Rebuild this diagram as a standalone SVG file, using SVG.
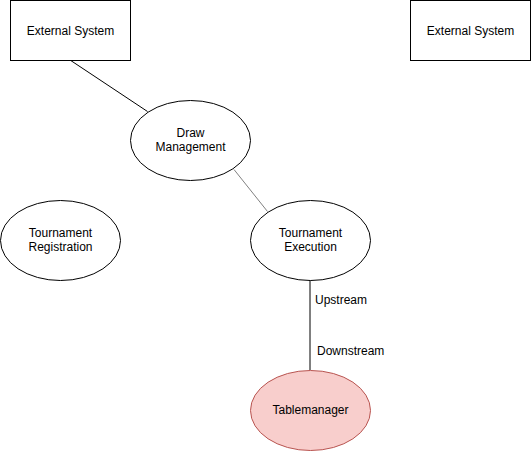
<svg xmlns="http://www.w3.org/2000/svg" width="531" height="451" viewBox="0 0 531 451">
<style>
.n{fill:#ffffff;stroke:#000000;stroke-width:1}
.r{fill:#f8cecc;stroke:#b85450;stroke-width:1}
text{font-family:"Liberation Sans",Arial,sans-serif;font-size:12px;fill:#000000}
.c{text-anchor:middle}
.e{fill:none;stroke:#000000;stroke-width:1}
</style>
<rect width="531" height="451" fill="#ffffff"/>
<g id="connectors">
<line class="e" x1="70" y1="60" x2="147.5" y2="111.5"/>
<line class="e" x1="234" y1="169.5" x2="267.5" y2="211.5" style="stroke:#808080"/>
<line class="e" x1="310" y1="280" x2="310" y2="370"/>
<text x="315" y="304">Upstream</text>
<text x="317" y="355">Downstream</text>
</g>
<g id="ext1">
<rect class="n" x="10.5" y="0.5" width="120" height="60"/>
<text class="c" x="70.5" y="35">External System</text>
</g>
<g id="ext2">
<rect class="n" x="410.5" y="0.5" width="120" height="60"/>
<text class="c" x="470.5" y="35">External System</text>
</g>
<g id="draw">
<ellipse class="n" cx="190.5" cy="140.5" rx="60" ry="40"/>
<text class="c" x="190.5" y="137">Draw</text>
<text class="c" x="190.5" y="151">Management</text>
</g>
<g id="registration">
<ellipse class="n" cx="60.5" cy="240.5" rx="60" ry="40"/>
<text class="c" x="60.5" y="237">Tournament</text>
<text class="c" x="60.5" y="251">Registration</text>
</g>
<g id="execution">
<ellipse class="n" cx="310.5" cy="240.5" rx="60" ry="40"/>
<text class="c" x="310.5" y="237">Tournament</text>
<text class="c" x="310.5" y="251">Execution</text>
</g>
<g id="tablemanager">
<ellipse class="r" cx="310.5" cy="410.5" rx="60" ry="40"/>
<text class="c" x="310.5" y="414">Tablemanager</text>
</g>
</svg>
